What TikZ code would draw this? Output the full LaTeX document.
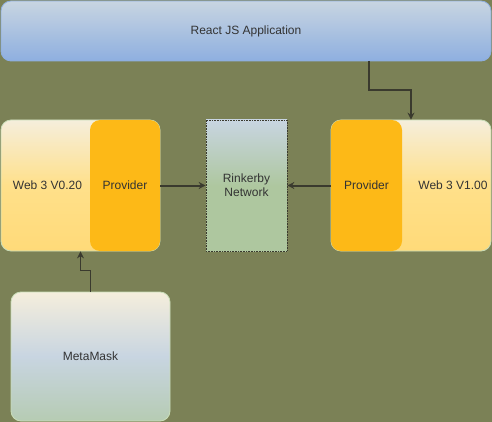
\documentclass[tikz,border=0pt]{standalone}
\usepackage{fontspec}
\setmainfont{Liberation Sans}
\usetikzlibrary{arrows.meta}

\definecolor{fondo}{HTML}{7B8156}
\definecolor{texto}{HTML}{333333}
\definecolor{flecha}{HTML}{3A3A2E}
\definecolor{naranja}{HTML}{FDB917}
\definecolor{crema}{HTML}{F5EEDC}
\definecolor{amarillo}{HTML}{FFE08A}
\definecolor{azul}{HTML}{8EAFE0}
\definecolor{azulgris}{HTML}{C8D5E1}
\definecolor{verde}{HTML}{AEC79F}
\definecolor{borde}{HTML}{C9DDB8}

\tikzset{
    caja/.style={rectangle, rounded corners=10pt, inner sep=0pt, text=texto,
        font=\fontsize{12}{14}\selectfont, draw=borde, line width=0.8pt},
    web/.style={caja, top color=crema, bottom color=amarillo!85!naranja,
        middle color=amarillo},
    prov/.style={caja, draw=none, fill=naranja},
    red/.style={rectangle, inner sep=0pt, text=texto, align=center,
        font=\fontsize{12}{14}\selectfont, top color=azulgris, bottom color=verde,
        middle color=verde, draw=flecha, densely dotted, line width=0.6pt},
    etiq/.style={text=texto, font=\fontsize{12}{14}\selectfont},
    flechagr/.style={draw=flecha, line width=2pt, -{Stealth[length=7pt,width=7pt]}},
    codo/.style={draw=flecha, line width=1.1pt, -{Stealth[length=7pt,width=7pt]}},
}

\begin{document}
\begin{tikzpicture}[x=1pt, y=-1pt]

    % fondo
    \fill[fondo] (0,0) rectangle (492,422);
    \useasboundingbox (0,0) rectangle (492,422);

    % aplicacion
    \node[caja, draw=azul, top color=azulgris, bottom color=azul,
        minimum width=490pt, minimum height=60pt] (react) at (246,31) {React JS Application};

    % web3 izquierda
    \node[web, minimum width=159pt, minimum height=131pt] (web3a) at (80.5,185.5) {};
    \node[prov, minimum width=70pt, minimum height=131pt] (provA) at (125,185.5) {Provider};
    \node[etiq] (txtA) at (47.5,185.5) {Web 3 V0.20};

    % red
    \node[red, minimum width=81pt, minimum height=131pt] (rink) at (246.5,185.5) {Rinkerby\\Network};

    % web3 derecha
    \node[web, minimum width=160pt, minimum height=131pt] (web3b) at (411,185.5) {};
    \node[prov, minimum width=71pt, minimum height=131pt] (provB) at (366.5,185.5) {Provider};
    \node[etiq] (txtB) at (453,185.5) {Web 3 V1.00};

    % metamask
    \node[caja, top color=crema, bottom color=verde!70!azulgris, middle color=azulgris,
        minimum width=159pt, minimum height=129pt] (meta) at (90.5,356.5) {MetaMask};

    % conexiones
    \coordinate (salida) at (369,61);
    \draw[codo] (salida) -- ++(0,29) -| (web3b.north);
    \draw[codo] (meta.north) -- ++(0,-21) -| (web3a.south);
    \draw[flechagr] (provA.east) -- (rink.west);
    \draw[flechagr] (provB.west) -- (rink.east);

\end{tikzpicture}
\end{document}
